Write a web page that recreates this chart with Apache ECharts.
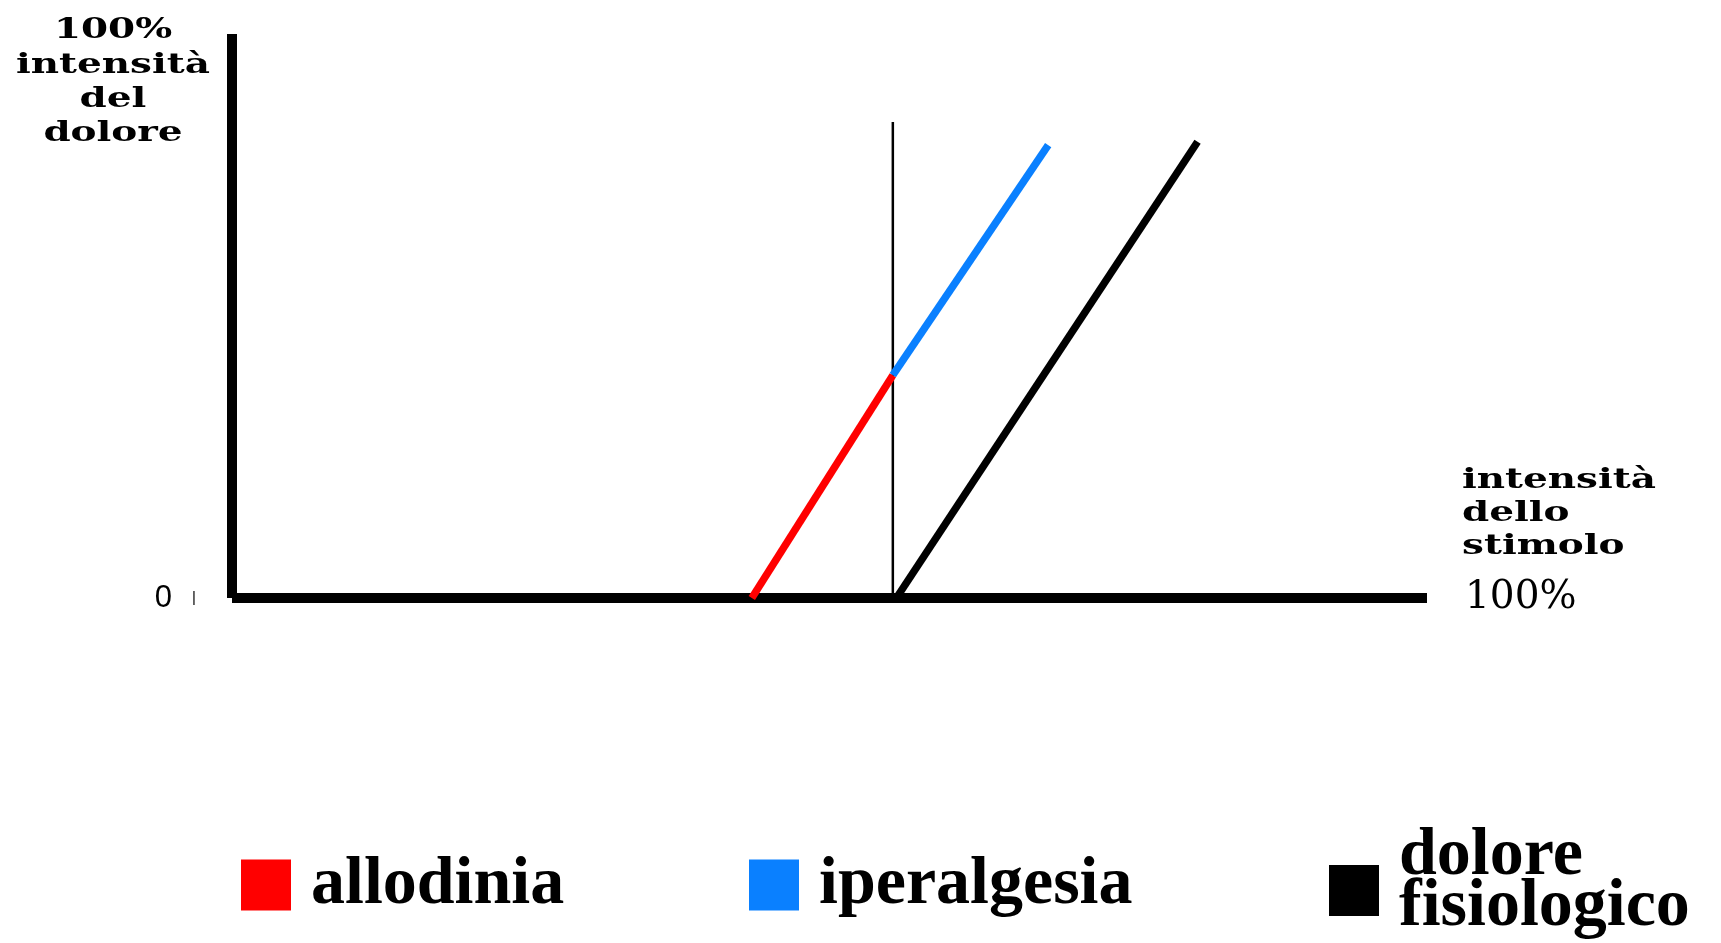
<!DOCTYPE html>
<html>
<head>
<meta charset="utf-8">
<script src="https://cdn.jsdelivr.net/npm/echarts@6/dist/echarts.min.js"></script>
<style>
  html, body { margin: 0; padding: 0; background: #fff; }
  #chart { width: 1721px; height: 943px; }
</style>
</head>
<body>
<div id="chart"></div>
<script>
// dati (asse x e y in % 0..100)
var allodinia = [[43.5, 0], [55.3, 39.5]];
var iperalgesia = [[55.3, 39.5], [68.3, 80.3]];
var fisiologico = [[55.6, 0], [80.8, 80.9]];
var soglia = [[55.3, 0], [55.3, 84.4]];
var nomi = ['allodinia', 'iperalgesia', 'dolore fisiologico'];
var colori = ['#FF0000', '#0A80FF', '#000000'];
var yTitolo = '100%\nintensità\ndel\ndolore';
var xTitolo = 'intensità\ndello\nstimolo';
var xMaxLabel = '100%';

var serif = '"DejaVu Serif", serif';
var times = '"Liberation Serif", serif';

var chart = echarts.init(document.getElementById('chart'));

function legenda(nome, left, top) {
    return {
        data: [nome],
        left: left,
        top: top,
        padding: 0,
        orient: 'horizontal',
        icon: 'rect',
        itemWidth: 50,
        itemHeight: 51,
        selectedMode: false,
        formatter: function (n) {
            // testo su due righe, alzato un po' rispetto al quadrato
            return n === 'dolore fisiologico' ? '{a|dolore}\n{a|fisiologico}\n{s|}' : '{a|' + n + '}';
        },
        textStyle: {
            color: '#000',
            fontFamily: times,
            fontWeight: 'bold',
            fontSize: 68,
            lineHeight: 51,
            padding: [0, 0, 0, 15],
            rich: {
                a: { fontFamily: times, fontWeight: 'bold', fontSize: 68, lineHeight: 51, color: '#000' },
                s: { fontSize: 10, lineHeight: 18 }
            }
        }
    };
}

function linea(nome, dati, colore, larghezza, z) {
    return {
        name: nome,
        type: 'line',
        data: dati,
        symbol: 'none',
        z: z,
        itemStyle: { color: colore },
        lineStyle: { color: colore, width: larghezza, cap: 'butt' }
    };
}

var titolo = {
    fill: '#000',
    fontFamily: serif,
    fontWeight: 'bold',
    fontSize: 28,
    verticalAlign: 'top'
};

var option = {
    backgroundColor: '#fff',
    animation: false,
    grid: { left: 232, right: 294, top: 34, bottom: 345 },
    legend: [
        legenda(nomi[0], 241, 851),
        legenda(nomi[1], 749, 851),
        legenda(nomi[2], 1329, 822)
    ],
    xAxis: {
        type: 'value',
        min: 0,
        max: 100,
        interval: 100,
        name: xMaxLabel,
        nameLocation: 'end',
        nameGap: 38,
        nameTextStyle: { color: '#000', fontFamily: serif, fontSize: 39, verticalAlign: 'middle' },
        axisLine: { lineStyle: { color: '#000', width: 10, cap: 'butt' } },
        axisTick: { show: false },
        axisLabel: { show: false },
        splitLine: { show: false }
    },
    yAxis: {
        type: 'value',
        min: 0,
        max: 100,
        interval: 100,
        axisLine: { show: true, lineStyle: { color: '#000', width: 10, cap: 'butt' } },
        axisTick: { show: false },
        splitLine: { show: false },
        axisLabel: {
            margin: 36,
            formatter: function (v) { return v === 0 ? '{n|0}{b||}' : ''; },
            rich: {
                n: { fontFamily: '"Liberation Sans", sans-serif', fontSize: 31, color: '#000' },
                b: { fontFamily: '"Liberation Sans", sans-serif', fontSize: 15, color: '#000', padding: [0, 0, 0, 20] }
            }
        }
    },
    graphic: [
        {
            type: 'text',
            x: 113,
            y: 14,
            scaleX: 1.39,
            style: echarts.util.extend({ text: yTitolo, lineHeight: 34.3, align: 'center' }, titolo)
        },
        {
            type: 'text',
            x: 1462,
            y: 464,
            scaleX: 1.39,
            style: echarts.util.extend({ text: xTitolo, lineHeight: 33, align: 'left' }, titolo)
        }
    ],
    series: [
        linea('soglia', soglia, '#000', 2.5, 1),
        linea(nomi[0], allodinia, colori[0], 7.5, 3),
        linea(nomi[1], iperalgesia, colori[1], 7.5, 3),
        linea(nomi[2], fisiologico, colori[2], 7.5, 3)
    ]
};

chart.setOption(option);
</script>
</body>
</html>
